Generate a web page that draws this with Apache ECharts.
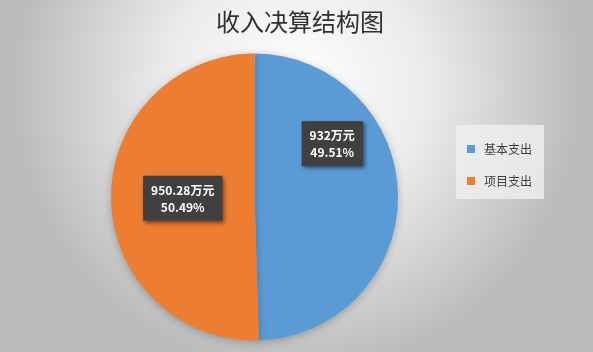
<!DOCTYPE html>
<html><head><meta charset="utf-8">
<script src="https://cdn.jsdelivr.net/npm/echarts@6/dist/echarts.min.js"></script>
<style>html,body{margin:0;padding:0;}#c{width:593px;height:352px;}</style>
</head><body><div id="c"></div>
<script>
const titleText = '收入决算结构图';
const categories = ['基本支出', '项目支出'];
const values = [932, 950.28];
const percents = ['49.51%', '50.49%'];
const unit = '万元';
const colors = ['#5b9bd5', '#ed7d31'];

const chart = echarts.init(document.getElementById('c'));
const labelBox = {
  show: true,
  position: 'inside',
  formatter: function (p) { return '{v|' + values[p.dataIndex] + unit + '}\n{p|' + percents[p.dataIndex] + '}'; },
  backgroundColor: '#404040',
  padding: [6, 8, 5, 8],
  shadowColor: 'rgba(0,0,0,0.5)',
  shadowBlur: 4,
  shadowOffsetX: 2,
  shadowOffsetY: 2,
  rich: {
    v: { color: '#fff', fontSize: 12, fontWeight: 'bold', fontFamily: 'Noto Sans CJK SC', lineHeight: 17, align: 'center' },
    p: { color: '#fff', fontSize: 12, fontWeight: 'bold', fontFamily: 'Noto Sans CJK SC', lineHeight: 17, align: 'center' }
  }
};
chart.setOption({
  backgroundColor: {
    type: 'radial', x: 0.5, y: 0.25, r: 0.8,
    colorStops: [{ offset: 0, color: '#ffffff' }, { offset: 0.45, color: '#ececec' }, { offset: 1, color: '#bcbcbc' }]
  },
  title: {
    text: titleText, left: 295, top: 5, textAlign: 'center',
    textStyle: { fontSize: 24, fontWeight: 'normal', color: '#303030', fontFamily: 'Noto Sans CJK SC' }
  },
  legend: {
    orient: 'vertical', left: 456, top: 125,
    padding: [18, 12, 12, 11],
    itemGap: 20, itemWidth: 8, itemHeight: 8, icon: 'rect',
    backgroundColor: 'rgba(240,240,240,0.8)',
    textStyle: { fontSize: 12, color: '#404040', fontFamily: 'Noto Sans CJK SC', padding: [0, 0, 0, 4] },
    data: categories
  },
  color: colors,
  series: [{
    type: 'pie', center: [254.5, 197], radius: 143.5, startAngle: 90,
    clockwise: true, silent: true,
    label: labelBox,
    labelLine: { show: false },
    itemStyle: { shadowColor: 'rgba(0,0,0,0.25)', shadowBlur: 8, shadowOffsetY: 2 },
    labelLayout: function (p) {
      if (p.dataIndex === 0) return { dx: 3, dy: -52 };
      return { dx: 3, dy: 0 };
    },
    data: categories.map((c, i) => ({ name: c, value: values[i] }))
  }]
});
</script></body></html>
